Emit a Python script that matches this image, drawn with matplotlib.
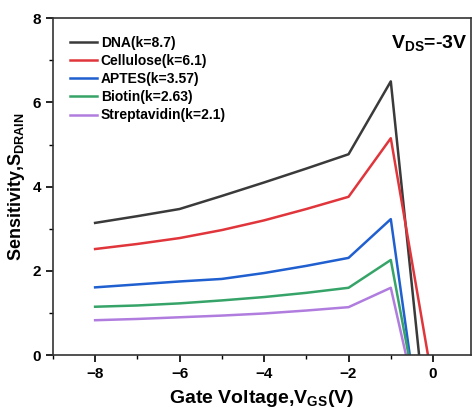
import numpy as np
import matplotlib
matplotlib.use('Agg')
import matplotlib.pyplot as plt
from matplotlib.ticker import MultipleLocator

# Gate voltage sweep (V)
vgs = [-8, -7, -6, -5, -4, -3, -2, -1, 0]

# Drain sensitivity for each biomolecule
dna = [3.14, 3.30, 3.47, 3.78, 4.10, 4.43, 4.77, 6.50, -3.2]
cellulose = [2.52, 2.64, 2.78, 2.97, 3.20, 3.47, 3.76, 5.15, -0.7]
aptes = [1.61, 1.68, 1.75, 1.81, 1.95, 2.12, 2.31, 3.23, -3.95]
biotin = [1.15, 1.18, 1.23, 1.30, 1.38, 1.48, 1.60, 2.26, -3.1]
streptavidin = [0.83, 0.86, 0.90, 0.94, 0.99, 1.06, 1.14, 1.60, -2.84]

labels = ['DNA(k=8.7)', 'Cellulose(k=6.1)', 'APTES(k=3.57)',
          'Biotin(k=2.63)', 'Streptavidin(k=2.1)']
colors = ['#3a3a3a', '#e0353b', '#1f5fcf', '#36a468', '#b07ddf']

plt.rcParams['font.family'] = ['Liberation Sans', 'DejaVu Sans']
plt.rcParams['font.weight'] = 'bold'
plt.rcParams['mathtext.fontset'] = 'custom'
plt.rcParams['mathtext.rm'] = 'Liberation Sans:bold'
plt.rcParams['mathtext.bf'] = 'Liberation Sans:bold'
plt.rcParams['mathtext.default'] = 'bf'

fig = plt.figure(figsize=(4.72, 4.13), dpi=100)
ax = fig.add_axes([0.112, 0.140, 0.886, 0.816])

for series, label, color in zip([dna, cellulose, aptes, biotin, streptavidin],
                                labels, colors):
    ax.plot(vgs, series, color=color, lw=1.8, label=label)

ax.set_xlim(-9, 0.9)
ax.set_ylim(0, 8)
ax.xaxis.set_major_locator(MultipleLocator(2))
ax.xaxis.set_minor_locator(MultipleLocator(1))
ax.yaxis.set_major_locator(MultipleLocator(2))
ax.yaxis.set_minor_locator(MultipleLocator(1))
ax.tick_params(which='major', direction='out', length=5, width=1.2,
               labelsize=11)
ax.tick_params(which='minor', direction='out', length=3, width=1.0)
for lbl in ax.get_xticklabels() + ax.get_yticklabels():
    lbl.set_fontweight('bold')
for s in ax.spines.values():
    s.set_linewidth(1.2)
    s.set_color('#333333')

ax.set_xlabel('Gate Voltage,V$_{GS}$(V)', fontsize=14, fontweight='bold',
              labelpad=5)
ax.set_ylabel('Sensitivity,S$_{DRAIN}$', fontsize=13, fontweight='bold',
              labelpad=4)

ax.text(0.99, 0.925, 'V$_{DS}$=-3V', transform=ax.transAxes, ha='right',
        va='center', fontsize=14, fontweight='bold')

ax.legend(loc='upper left', frameon=False, handlelength=2.0,
          handletextpad=0.25, labelspacing=0.3, borderaxespad=0.5,
          bbox_to_anchor=(0.01, 0.985), prop={'weight': 'bold', 'size': 10})

fig.savefig('out.png', dpi=100)
